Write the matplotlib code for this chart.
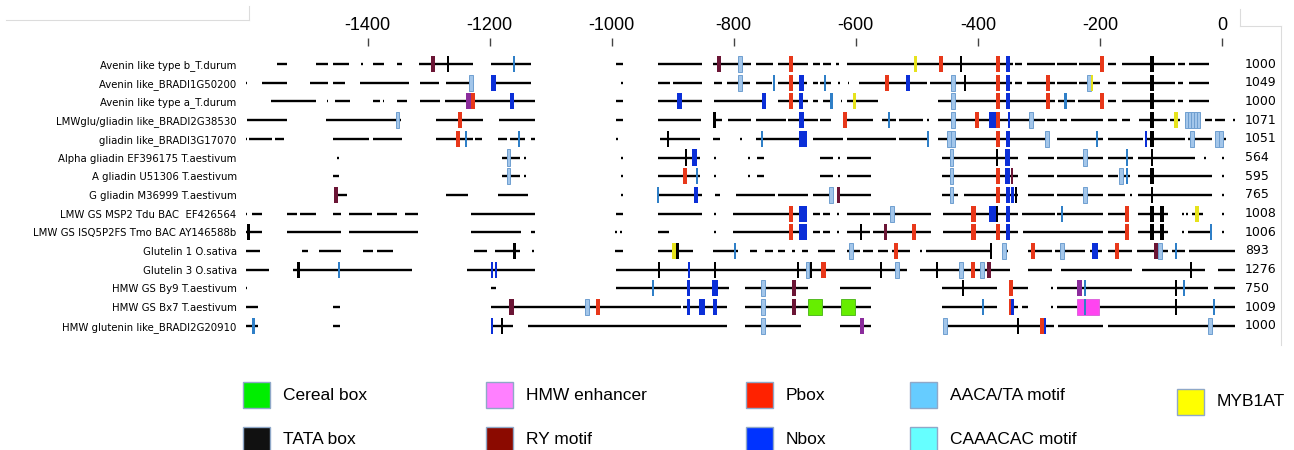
import matplotlib
matplotlib.use("Agg")
import matplotlib.pyplot as plt
import matplotlib.transforms as mtransforms
from matplotlib.lines import Line2D
from matplotlib.patches import Rectangle

# promoter names (top to bottom) and sequence lengths shown on the right
names = ["Avenin like type b_T.durum", "Avenin like_BRADI1G50200", "Avenin like type a_T.durum",
         "LMWglu/gliadin like_BRADI2G38530", "gliadin like_BRADI3G17070",
         "Alpha gliadin EF396175 T.aestivum", "A gliadin U51306 T.aestivum",
         "G gliadin M36999 T.aestivum", "LMW GS MSP2 Tdu BAC  EF426564",
         "LMW GS ISQ5P2FS Tmo BAC AY146588b", "Glutelin 1 O.sativa", "Glutelin 3 O.sativa",
         "HMW GS By9 T.aestivum", "HMW GS Bx7 T.aestivum", "HMW glutenin like_BRADI2G20910"]
seq_len = [1000, 1049, 1000, 1071, 1051, 564, 595, 765, 1008, 1006, 893, 1276, 750, 1009, 1000]
ticks = [-1400, -1200, -1000, -800, -600, -400, -200, 0]

# aligned stretches of each promoter (start, end in bp)
segments = [
    [(-1549, -1532), (-1485, -1465), (-1457, -1431), (-1411, -1408), (-1391, -1373), (-1352, -1344),
     (-1316, -1228), (-1198, -1133), (-993, -982), (-924, -852), (-834, -772), (-764, -736), (-728, -679),
     (-670, -659), (-654, -641), (-633, -628), (-615, -343), (-339, -328), (-320, -274), (-270, -238),
     (-234, -198), (-187, -174), (-164, -77), (-72, -61), (-54, -21)],
    [(-1599, -1597), (-1573, -1532), (-1495, -1465), (-1457, -1437), (-1413, -1332), (-1314, -1283),
     (-1272, -1228), (-1198, -1133), (-985, -982), (-924, -905), (-900, -852), (-833, -820), (-811, -774),
     (-764, -738), (-728, -680), (-670, -662), (-659, -640), (-629, -626), (-613, -611), (-595, -484),
     (-479, -344), (-339, -328), (-320, -274), (-270, -238), (-234, -200), (-187, -174), (-164, -77),
     (-72, -64), (-54, -21)],
    [(-1559, -1485), (-1467, -1465), (-1454, -1429), (-1392, -1380), (-1375, -1373), (-1352, -1335),
     (-1314, -1282), (-1274, -1125), (-993, -982), (-924, -852), (-833, -749), (-728, -679), (-670, -662),
     (-654, -640), (-624, -623), (-615, -564), (-465, -274), (-269, -241), (-236, -197), (-187, -174),
     (-164, -77), (-72, -64), (-54, -21)],
    [(-1597, -1532), (-1469, -1346), (-1288, -1211), (-1185, -1125), (-993, -982), (-924, -854), (-834, -820),
     (-810, -772), (-764, -715), (-711, -662), (-659, -641), (-618, -572), (-557, -534), (-529, -490),
     (-483, -480), (-465, -290), (-287, -270), (-266, -254), (-248, -195), (-187, -172), (-164, -151),
     (-136, -90), (-85, -69), (-61, -34), (-28, -16), (-11, 5), (18, 21)],
    [(-1599, -1597), (-1594, -1557), (-1552, -1537), (-1457, -1398), (-1391, -1344), (-1288, -1228),
     (-1224, -1213), (-1187, -1172), (-1167, -1142), (-1133, -1126), (-993, -990), (-921, -856), (-834, -823),
     (-790, -787), (-764, -680), (-670, -621), (-615, -534), (-529, -484), (-465, -282), (-270, -195),
     (-187, -129), (-125, -61), (-56, -16), (-11, 7)],
    [(-1450, -1447), (-1180, -1150), (-1144, -1141), (-985, -982), (-924, -856), (-833, -829), (-777, -774),
     (-762, -751), (-659, -638), (-629, -626), (-615, -575), (-459, -334), (-318, -275), (-270, -195),
     (-187, -146), (-138, -44), (-30, -26), (0, 3)],
    [(-1457, -1447), (-1180, -1150), (-1144, -1141), (-985, -982), (-924, -856), (-833, -829), (-777, -774),
     (-762, -751), (-659, -638), (-629, -626), (-615, -575), (-459, -334), (-318, -275), (-270, -195),
     (-187, -170), (-166, -151), (-138, -16), (0, 3)],
    [(-1454, -1434), (-1272, -1236), (-1187, -1137), (-985, -982), (-924, -852), (-831, -823), (-797, -733),
     (-728, -679), (-670, -641), (-628, -575), (-459, -433), (-423, -334), (-318, -275), (-270, -195),
     (-187, -159), (-151, -148), (-138, -16), (0, 3)],
    [(-1599, -1597), (-1590, -1573), (-1532, -1516), (-1511, -1485), (-1457, -1444), (-1431, -1393),
     (-1385, -1352), (-1339, -1318), (-1231, -1126), (-993, -982), (-924, -852), (-833, -829), (-802, -680),
     (-670, -659), (-654, -643), (-631, -628), (-615, -577), (-572, -477), (-457, -334), (-328, -274),
     (-270, -195), (-187, -154), (-138, -89), (-66, -62), (-59, -56), (-49, -31), (0, 3)],
    [(-1599, -1573), (-1532, -1444), (-1431, -1318), (-1231, -1148), (-1133, -1126), (-995, -992),
     (-987, -984), (-924, -907), (-833, -829), (-802, -680), (-670, -659), (-654, -643), (-631, -628),
     (-615, -577), (-572, -477), (-457, -334), (-326, -195), (-187, -154), (-138, -89), (-66, -62),
     (-56, -16), (0, 3)],
    [(-1599, -1577), (-1508, -1498), (-1480, -1444), (-1408, -1391), (-1385, -1359), (-1226, -1205),
     (-1192, -1150), (-1131, -1128), (-995, -982), (-924, -867), (-834, -793), (-774, -762), (-749, -736),
     (-728, -716), (-705, -700), (-689, -679), (-662, -634), (-615, -593), (-588, -572), (-564, -547),
     (-541, -511), (-495, -492), (-485, -377), (-361, -351), (-318, -279), (-274, -225), (-216, -197),
     (-187, -148), (-139, -89), (-82, -61), (-54, 21)],
    [(-1599, -1562), (-1523, -1328), (-1237, -1126), (-993, -516), (-495, -347), (-318, -279), (-264, -148),
     (-131, -28), (-7, 21)],
    [(-1599, -1597), (-1198, -1189), (-993, -808), (-782, -679), (-626, -575), (-459, -369), (-347, -318),
     (-280, -277), (-270, -23), (-13, 21)],
    [(-1599, -1580), (-1457, -1446), (-1198, -887), (-883, -811), (-782, -575), (-459, -369), (-347, -334),
     (-328, -318), (-280, -277), (-270, 21)],
    [(-1599, -1580), (-1457, -1446), (-1198, -1162), (-1137, -811), (-782, -690), (-626, -575), (-457, -275),
     (-269, -195), (-187, 21)],
]

# motifs: (type, centre bp[, motif length bp])
motifs = [
    [("RY", -1293), ("T", -1269), ("CA", -1160), ("RY", -824), ("AA", -790), ("P", -706), ("MY", -502),
     ("P", -461), ("T", -428), ("P", -367), ("N", -351), ("P", -197), ("T", -115, 7)],
    [("AA", -1231), ("N", -1194, 9), ("AA", -790), ("CA", -734), ("P", -706), ("N", -689), ("CA", -651),
     ("P", -549), ("N", -515), ("AA", -441), ("T", -421), ("P", -367), ("N", -351), ("P", -285),
     ("AA", -218), ("MY", -213, 4), ("T", -115, 7)],
    [("PU", -1235, 9), ("P", -1227), ("N", -1164), ("N", -889), ("N", -751), ("P", -706), ("N", -690),
     ("CA", -640), ("MY", -602), ("AA", -441), ("P", -367), ("N", -351), ("P", -285), ("CA", -257, 5),
     ("P", -197), ("T", -115, 7)],
    [("AA", -1351), ("P", -1249), ("T", -831, 5), ("N", -689), ("P", -618), ("CA", -546), ("AA", -441),
     ("P", -402), ("N", -376, 12), ("P", -367), ("N", -349, 3), ("AA", -313), ("T", -115, 7), ("MY", -75),
     ("AA", -58, 5), ("AA", -53, 5), ("AA", -48, 5), ("AA", -43, 5), ("AA", -38, 5)],
    [("P", -1252), ("CA", -1239), ("CA", -1152), ("T", -908), ("CA", -754), ("N", -687, 13), ("CA", -482),
     ("AA", -447), ("AA", -441), ("P", -367), ("N", -351), ("AA", -287), ("CA", -205), ("N", -125, 3),
     ("T", -115, 7), ("AA", -49), ("AA", -8), ("AA", -2)],
    [("AA", -1169), ("T", -879), ("N", -864, 8), ("AA", -443), ("T", -369), ("N", -351, 8), ("AA", -225),
     ("CA", -156), ("T", -115)],
    [("AA", -1169), ("P", -880), ("CA", -860), ("AA", -443), ("P", -367), ("N", -351, 8), ("RY", -344, 3),
     ("AA", -166), ("CA", -156), ("T", -115, 7)],
    [("RY", -1452), ("CA", -924), ("N", -862, 8), ("AA", -641), ("RY", -628, 5), ("AA", -443), ("P", -367),
     ("N", -351), ("N", -343, 4), ("T", -338, 4), ("AA", -225), ("T", -115)],
    [("P", -706), ("N", -687, 13), ("AA", -541), ("P", -407), ("N", -375, 13), ("T", -369), ("N", -351),
     ("CA", -262), ("P", -156), ("T", -115, 7), ("T", -98, 7), ("MY", -41)],
    [("T", -1595, 5), ("P", -706), ("N", -687, 13), ("T", -592), ("RY", -552, 5), ("P", -505), ("P", -407),
     ("P", -367), ("N", -351), ("P", -156), ("T", -115, 7), ("T", -98, 7), ("CA", -18)],
    [("T", -1160, 5), ("MY", -898), ("T", -892, 4), ("CA", -798), ("AA", -608), ("P", -534), ("T", -379),
     ("AA", -357), ("P", -310), ("AA", -262), ("N", -211, 5), ("N", -205, 5), ("P", -172), ("RY", -108),
     ("AA", -102), ("CA", -75)],
    [("T", -1513, 5), ("CA", -1447), ("N", -1196, 4), ("N", -1190, 4), ("T", -923), ("N", -874, 3),
     ("T", -831), ("T", -695), ("AA", -679), ("T", -674), ("P", -653), ("T", -559), ("AA", -533),
     ("T", -467), ("AA", -428), ("P", -408), ("AA", -393), ("RY", -382), ("T", -51)],
    [("CA", -933), ("N", -874, 4), ("N", -831, 10), ("AA", -752), ("RY", -701), ("T", -424), ("P", -346),
     ("PU", -233), ("CA", -225), ("T", -75), ("CA", -62)],
    [("RY", -1164, 8), ("AA", -1041), ("P", -1023), ("N", -874, 4), ("N", -852, 9), ("N", -831, 6),
     ("AA", -752), ("RY", -701), ("CB", -667, 23), ("CB", -613, 23), ("CA", -392), ("P", -346),
     ("N", -343, 4), ("HM", -220, 36), ("CA", -225), ("T", -75), ("CA", -13)],
    [("CA", -1587), ("N", -1196, 4), ("T", -1180), ("AA", -752), ("PU", -590), ("AA", -454, 8), ("T", -334),
     ("P", -295), ("N", -290, 4), ("AA", -20)],
]

legend_labels = [["Cereal box", "HMW enhancer", "Pbox", "AACA/TA motif", "MYB1AT"],
                 ["TATA box", "RY motif", "Nbox", "CAAACAC motif"]]
legend_colors = [["#00ee00", "#ff80ff", "#ff2200", "#66ccff", "#ffff00"],
                 ["#111111", "#8b0a00", "#0033ff", "#66ffff"]]

# colours / default widths of the marks as drawn in the alignment
mark_color = {"P": "#e8381a", "N": "#0b2fd8", "T": "#000000", "RY": "#6b1535", "AA": "#a3c6ea",
              "CA": "#2f7fc7", "MY": "#e6e21c", "CB": "#66ee00", "HM": "#ff44f0", "PU": "#8b2c9c"}
mark_edge = {"AA": "#6f9fd0", "CB": "#55bb22", "HM": "#dd66dd"}
mark_len = {"P": 7, "N": 7, "T": 3, "RY": 7, "AA": 6, "CA": 3.5, "MY": 6, "CB": 23, "HM": 36, "PU": 8}

W, H = 1294, 450
fig = plt.figure(figsize=(W / 100, H / 100), dpi=100)
fig.patch.set_facecolor("white")

ax = fig.add_axes([245 / W, 1 - 340 / H, 995 / W, 294 / H])
ax.set_xlim(-1601, 29.5)
ax.set_ylim(14.76, -0.963)

for i, segs in enumerate(segments):
    ax.hlines([i] * len(segs), [s[0] for s in segs], [s[1] for s in segs],
              color="black", linewidth=1.7, zorder=1)

for i, row in enumerate(motifs):
    # wide boxes first so that thin marks stay on top
    row = sorted(row, key=lambda m: -(m[2] if len(m) > 2 else mark_len[m[0]]))
    for m in row:
        kind, pos = m[0], m[1]
        length = m[2] if len(m) > 2 else mark_len[kind]
        h = 0.86 if kind not in ("CB", "HM") else 0.84
        ax.bar(pos, h, width=length, bottom=i - h / 2, color=mark_color[kind],
               edgecolor=mark_edge.get(kind, "none"), linewidth=0.7, zorder=2)

ax.xaxis.tick_top()
ax.set_xticks(ticks)
ax.set_xticklabels([str(t) for t in ticks], family="Liberation Sans", fontsize=13)
ax.tick_params(axis="x", direction="out", length=6, width=1, color="#444444", pad=3)
ax.set_yticks(range(len(names)))
ax.set_yticklabels(names, family="DejaVu Sans", fontsize=7.3)
ax.tick_params(axis="y", length=0, pad=6)
for sp in ax.spines.values():
    sp.set_visible(False)

# sequence lengths on the right
tr = mtransforms.blended_transform_factory(fig.transFigure, ax.transData)
for i, n in enumerate(seq_len):
    ax.text(1245 / W, i, str(n), transform=tr, ha="left", va="center", fontsize=9,
            family=["Liberation Sans Narrow", "DejaVu Sans"], clip_on=False)

# light frame pieces of the original panel
def px(x, y):
    return x / W, 1 - y / H

frame = [((6, 20), (249, 20)), ((249, 6), (249, 20)), ((1240, 9), (1240, 26)),
         ((1240, 26), (1281, 26)), ((1281, 26), (1281, 345))]
for a, b in frame:
    (x0, y0), (x1, y1) = px(*a), px(*b)
    fig.add_artist(Line2D([x0, x1], [y0, y1], color="#dcdcdc", linewidth=0.8))

# legend
col_x = [243, 486, 746, 910, 1177]
row_y = [395, 440]
for r, (labs, cols) in enumerate(zip(legend_labels, legend_colors)):
    for c, (lab, colr) in enumerate(zip(labs, cols)):
        yc = row_y[r] + (7 if (r == 0 and c == 4) else 0)
        x0, y0 = px(col_x[c], yc + 13)
        fig.add_artist(Rectangle((x0, y0), 27 / W, 26 / H, transform=fig.transFigure,
                                 facecolor=colr, edgecolor="#8fa8c8", linewidth=1))
        tx, ty = px(col_x[c] + 40, yc)
        fig.text(tx, ty, lab, ha="left", va="center", fontsize=12.5, family="Liberation Sans")

fig.savefig("out.png", dpi=100)
